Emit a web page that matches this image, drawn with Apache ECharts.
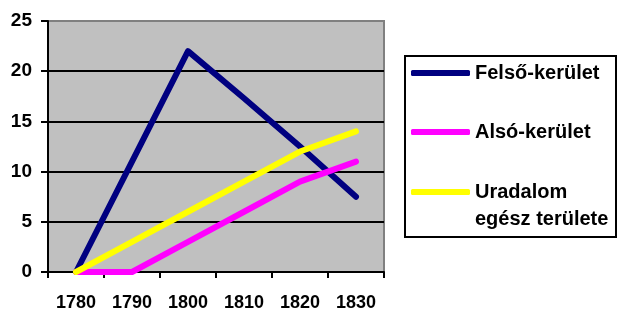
<!DOCTYPE html>
<html>
<head>
<meta charset="utf-8">
<script src="https://cdn.jsdelivr.net/npm/echarts@6/dist/echarts.min.js"></script>
<style>
  html, body { margin: 0; padding: 0; background: #fff; }
  #chart { width: 618px; height: 314px; }
</style>
</head>
<body>
<div id="chart"></div>
<script>
// Adatok (évek és a három terület értékei)
const years = ["1780", "1790", "1800", "1810", "1820", "1830"];
const felso = [0, 11, 22, 17.3, 12.5, 7.5];
const also = [0, 0, 3, 6, 9, 11];
const uradalom = [0, 3, 6, 9, 12, 14];
const seriesNames = ["Felső-kerület", "Alsó-kerület", "Uradalom\negész területe"];
const seriesColors = ["#000080", "#FF00FF", "#FFFF00"];
const yTicks = { min: 0, max: 25, interval: 5 };

const FONT = "Liberation Sans, Arial, sans-serif";

function lineSeries(name, data, color) {
  return {
    name,
    type: "line",
    data,
    symbol: "none",
    lineStyle: { width: 6, color, cap: "round", join: "round" },
    itemStyle: { color },
  };
}

// Egy-egy jelmagyarázat elem; a többsoros névnél üres első sor kerül elé,
// hogy az ikon az első szöveg-sorral legyen egy vonalban.
function legendFor(name, top, multiLine) {
  return {
    data: [name],
    left: 411,
    top,
    padding: 0,
    itemWidth: 59,
    itemHeight: 6,
    icon: "roundRect",
    selectedMode: false,
    formatter: multiLine ? (n) => "\n" + n : undefined,
    textStyle: {
      color: "#000", fontFamily: FONT, fontWeight: "bold", fontSize: 20,
      lineHeight: multiLine ? 27 : 22,
    },
  };
}

const chart = echarts.init(document.getElementById("chart"));
chart.setOption({
  animation: false,
  backgroundColor: "#fff",
  grid: {
    left: 48, right: 234, top: 21, bottom: 42,
    show: true, backgroundColor: "#C0C0C0", borderColor: "#808080", borderWidth: 2,
  },
  graphic: [{
    type: "rect",
    shape: { x: 405, y: 56, width: 211, height: 181 },
    style: { fill: "#fff", stroke: "#000", lineWidth: 2 },
    z: -1,
  }],
  legend: [
    legendFor(seriesNames[0], 62),
    legendFor(seriesNames[1], 121),
    legendFor(seriesNames[2], 151.5, true),
  ],
  xAxis: {
    type: "category",
    data: years,
    boundaryGap: true,
    axisLine: { lineStyle: { color: "#000", width: 2 } },
    axisTick: { show: true, length: 6, lineStyle: { color: "#000", width: 2 } },
    axisLabel: { color: "#000", fontFamily: FONT, fontWeight: "bold", fontSize: 18, margin: 22 },
    splitLine: { show: false },
  },
  yAxis: {
    type: "value",
    min: yTicks.min,
    max: yTicks.max,
    interval: yTicks.interval,
    axisLine: { show: true, lineStyle: { color: "#000", width: 2 } },
    axisTick: { show: true, length: 7, lineStyle: { color: "#000", width: 2 } },
    axisLabel: { color: "#000", fontFamily: FONT, fontWeight: "bold", fontSize: 19, margin: 16 },
    splitLine: { show: true, showMaxLine: false, lineStyle: { color: "#000", width: 2 } },
  },
  series: [
    lineSeries(seriesNames[0], felso, seriesColors[0]),
    lineSeries(seriesNames[1], also, seriesColors[1]),
    lineSeries(seriesNames[2], uradalom, seriesColors[2]),
  ],
});
</script>
</body>
</html>
